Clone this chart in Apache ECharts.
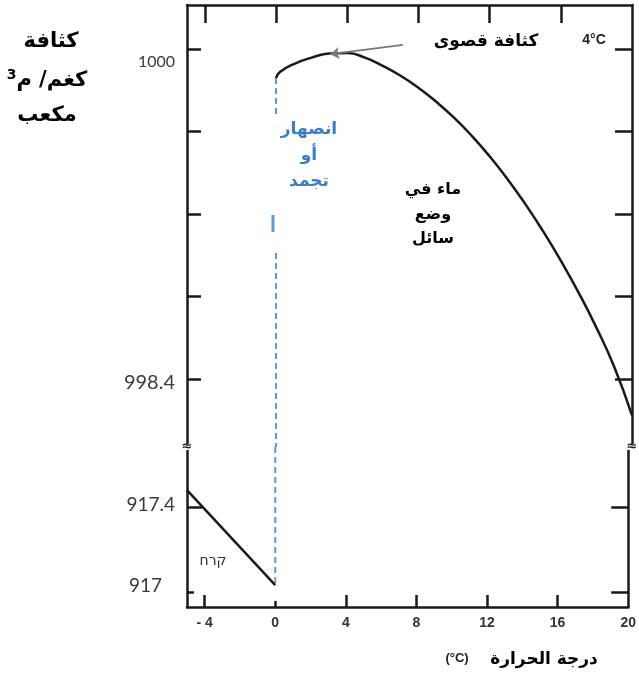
<!DOCTYPE html>
<html><head><meta charset="utf-8">
<script src="https://cdn.jsdelivr.net/npm/echarts@6/dist/echarts.min.js"></script>
<style>html,body{margin:0;padding:0;background:#fff}#c{width:639px;height:674px}</style>
</head><body><div id="c"></div>
<script>
// ---- data ----
const tempTicks = [-4, 0, 4, 8, 12, 16, 20];
const tempLabels = ['- 4', '0', '4', '8', '12', '16', '20'];
const waterTemp = [0, 0.22, 1, 2, 3, 4, 5, 6, 7, 8, 9, 10, 11, 12, 13, 14, 15, 16, 17, 18, 19, 20];
const waterDensity = [999.859, 999.888, 999.927, 999.958, 999.978, 999.980, 999.958, 999.918, 999.870, 999.812, 999.744, 999.667, 999.579, 999.480, 999.370, 999.249, 999.117, 998.974, 998.819, 998.649, 998.459, 998.224];
const iceTemp = [-5, 0];
const iceDensity = [917.482, 917.035];
const upperTicks = [1000, 999.6, 999.2, 998.8, 998.4];
const upperLabels = [1000, 998.4];
const lowerTicks = [917.4, 917];
const meltTopSeg = [[0, 999.859], [0, 999.68]];
const meltSolidSeg = [[-0.17, 999.195], [-0.17, 999.113]];
const meltMidSeg = [[0, 999.011], [0, 998.0703]];
const meltLowSeg = [[0, 917.6847], [0, 917.035]];
const maxArrow = [[7.13, 1000.02], [3.05, 999.975]];

// ---- layout ----
const L = 187, R = 7, TOP = 5, BRK = 447, BOT = 607, W = 639, H = 674;
const X_MIN = -5, X_MAX = 20;
const UP_MIN = 998.0703, UP_MAX = 1000.2133;
const LO_MIN = 916.9318, LO_MAX = 917.6847;
const INK = '#1a1a1a';
const AR = "'DejaVu Sans', sans-serif";

const chart = echarts.init(document.getElementById('c'), null, {renderer: 'canvas'});
const frame = {show: true, onZero: false, lineStyle: {color: INK, width: 2.5}};
const noLine = {show: false, onZero: false};
const tickStyle = {color: INK, width: 2.5};
const near = (a, b) => Math.abs(a - b) < 1e-6;

const option = {
  animation: false,
  backgroundColor: '#fff',
  grid: [
    {left: L, right: R, top: TOP, height: BRK - TOP},
    {left: L, right: R, top: BRK, height: BOT - BRK}
  ],
  xAxis: [
    {gridIndex: 0, type: 'value', min: X_MIN, max: X_MAX, position: 'top',
     axisLine: frame, splitLine: {show: false},
     axisTick: {show: true, inside: true, length: 18, customValues: tempTicks.slice(0, 6), lineStyle: tickStyle},
     axisLabel: {show: false}},
    {gridIndex: 1, type: 'value', min: X_MIN, max: X_MAX, position: 'bottom',
     axisLine: frame, splitLine: {show: false},
     axisTick: {show: true, inside: true, length: 12, customValues: tempTicks.filter(v => v !== 0 && v !== 20), lineStyle: tickStyle},
     axisLabel: {show: true, customValues: tempTicks, margin: 9, showMinLabel: true, showMaxLabel: true,
       formatter: v => tempLabels[tempTicks.indexOf(v)],
       fontFamily: "'Liberation Sans', Arial, sans-serif", fontWeight: 'bold', fontSize: 14, color: '#333'}},
    {gridIndex: 1, type: 'value', min: X_MIN, max: X_MAX, position: 'bottom',
     axisLine: noLine, splitLine: {show: false},
     axisTick: {show: true, inside: true, length: 6, customValues: [0], lineStyle: tickStyle},
     axisLabel: {show: false}}
  ],
  yAxis: [
    {gridIndex: 0, type: 'value', min: UP_MIN, max: UP_MAX, position: 'left',
     axisLine: frame, splitLine: {show: false},
     axisTick: {show: true, inside: true, length: 14, customValues: upperTicks, lineStyle: tickStyle},
     axisLabel: {show: true, customValues: upperLabels, margin: 12,
       formatter: v => near(v, 1000) ? '{a|1000}' : '{b|998.4}',
       rich: {
         a: {fontFamily: 'Lato', fontSize: 16, color: '#3a3a3a', padding: [26, 0, 0, 0]},
         b: {fontFamily: 'Lato', fontSize: 20, color: '#3a3a3a', padding: [7, 0, 0, 0]}
       }}},
    {gridIndex: 0, type: 'value', min: UP_MIN, max: UP_MAX, position: 'right',
     axisLine: frame, splitLine: {show: false},
     axisTick: {show: true, inside: true, length: 17, customValues: upperTicks, lineStyle: tickStyle},
     axisLabel: {show: false}},
    {gridIndex: 1, type: 'value', min: LO_MIN, max: LO_MAX, position: 'left',
     axisLine: frame, splitLine: {show: false},
     axisTick: {show: true, inside: true, length: 15, customValues: [lowerTicks[0]], lineStyle: tickStyle},
     axisLabel: {show: true, customValues: lowerTicks, margin: 12,
       formatter: v => near(v, 917.4) ? '{c|917.4}' : '{d|917}',
       rich: {
         c: {fontFamily: 'Lato', fontSize: 19, color: '#3a3a3a', padding: [0, 0, 5, 0]},
         d: {fontFamily: 'Lato', fontSize: 19, color: '#3a3a3a', padding: [0, 13, 14, 0]}
       }}},
    {gridIndex: 1, type: 'value', min: LO_MIN, max: LO_MAX, position: 'left',
     axisLine: noLine, splitLine: {show: false},
     axisTick: {show: true, inside: true, length: 7, customValues: [lowerTicks[1]], lineStyle: tickStyle},
     axisLabel: {show: false}},
    {gridIndex: 1, type: 'value', min: LO_MIN, max: LO_MAX, position: 'right',
     axisLine: frame, splitLine: {show: false},
     axisTick: {show: true, inside: true, length: 17, customValues: lowerTicks, lineStyle: tickStyle},
     axisLabel: {show: false}}
  ],
  series: [
    {type: 'line', xAxisIndex: 0, yAxisIndex: 0, smooth: 0.5, showSymbol: false, silent: true,
     data: waterTemp.map((t, i) => [t, waterDensity[i]]),
     lineStyle: {color: INK, width: 2.5},
     markLine: {silent: true, symbol: ['none', 'arrow'], symbolSize: [9, 9], label: {show: false},
       lineStyle: {color: '#777', width: 1.6, type: 'solid'},
       data: [[{coord: maxArrow[0]}, {coord: maxArrow[1], itemStyle: {color: '#222'}}]]}},
    {type: 'line', xAxisIndex: 0, yAxisIndex: 0, showSymbol: false, silent: true, data: meltTopSeg,
     lineStyle: {color: '#5b9bd5', width: 2, type: [6, 4]}},
    {type: 'line', xAxisIndex: 0, yAxisIndex: 0, showSymbol: false, silent: true, data: meltSolidSeg,
     lineStyle: {color: '#5b9bd5', width: 3}},
    {type: 'line', xAxisIndex: 0, yAxisIndex: 0, showSymbol: false, silent: true, data: meltMidSeg,
     lineStyle: {color: '#5b9bd5', width: 2, type: [6, 4]}},
    {type: 'line', xAxisIndex: 1, yAxisIndex: 2, showSymbol: false, silent: true, data: meltLowSeg,
     lineStyle: {color: '#5b9bd5', width: 2, type: [6, 4]}},
    {type: 'line', xAxisIndex: 1, yAxisIndex: 2, showSymbol: false, silent: true,
     data: iceTemp.map((t, i) => [t, iceDensity[i]]),
     lineStyle: {color: INK, width: 2.5}}
  ],
  graphic: [
    // axis break marks
    {type: 'rect', shape: {x: L - 5, y: BRK - 3, width: 10, height: 6}, style: {fill: '#fff'}, z: 100},
    {type: 'text', x: L, y: BRK, z: 101, style: {text: '≈', font: 'bold 13px DejaVu Sans', fill: INK, align: 'center', verticalAlign: 'middle'}},
    {type: 'rect', shape: {x: W - R - 5, y: BRK - 3, width: 10, height: 6}, style: {fill: '#fff'}, z: 100},
    {type: 'text', x: W - R, y: BRK, z: 101, style: {text: '≈', font: 'bold 13px DejaVu Sans', fill: INK, align: 'center', verticalAlign: 'middle'}},
    // y title
    {type: 'text', x: 51, y: 42, style: {text: 'كثافة', font: 'bold 21px ' + AR, fill: '#000', align: 'center', verticalAlign: 'middle'}},
    {type: 'text', x: 47, y: 81, style: {text: '{s|3}{t|كغم/ م}', align: 'center', verticalAlign: 'middle',
      rich: {s: {font: 'bold 14px ' + AR, fill: '#000', padding: [0, 0, 12, 0]}, t: {font: 'bold 21px ' + AR, fill: '#000'}}}},
    {type: 'text', x: 47, y: 116, style: {text: 'مكعب', font: 'bold 21px ' + AR, fill: '#000', align: 'center', verticalAlign: 'middle'}},
    // annotations
    {type: 'text', x: 486, y: 42, style: {text: 'كثافة قصوى', font: 'bold 17px ' + AR, fill: '#000', align: 'center', verticalAlign: 'middle'}},
    {type: 'text', x: 594, y: 40, style: {text: '4°C', font: 'bold 14px Liberation Sans', fill: '#222', align: 'center', verticalAlign: 'middle'}},
    {type: 'text', x: 309, y: 130, style: {text: 'انصهار', font: 'bold 17px ' + AR, fill: '#3b7cc4', align: 'center', verticalAlign: 'middle'}},
    {type: 'text', x: 309, y: 156, style: {text: 'أو', font: 'bold 17px ' + AR, fill: '#3b7cc4', align: 'center', verticalAlign: 'middle'}},
    {type: 'text', x: 309, y: 182, style: {text: 'تجمد', font: 'bold 17px ' + AR, fill: '#3b7cc4', align: 'center', verticalAlign: 'middle'}},
    {type: 'text', x: 433, y: 190, style: {text: 'ماء في', font: 'bold 16px ' + AR, fill: '#000', align: 'center', verticalAlign: 'middle'}},
    {type: 'text', x: 433, y: 215, style: {text: 'وضع', font: 'bold 16px ' + AR, fill: '#000', align: 'center', verticalAlign: 'middle'}},
    {type: 'text', x: 433, y: 239, style: {text: 'سائل', font: 'bold 16px ' + AR, fill: '#000', align: 'center', verticalAlign: 'middle'}},
    {type: 'text', x: 213, y: 561, style: {text: 'קרח', font: '14px DejaVu Sans', fill: '#333', align: 'center', verticalAlign: 'middle'}},
    // x title
    {type: 'text', x: 544, y: 660, style: {text: 'درجة الحرارة', font: 'bold 17px ' + AR, fill: '#000', align: 'center', verticalAlign: 'middle'}},
    {type: 'text', x: 457, y: 658, style: {text: '(°C)', font: 'bold 13px Liberation Sans', fill: '#222', align: 'center', verticalAlign: 'middle'}}
  ]
};
chart.setOption(option);
</script>
</body></html>
